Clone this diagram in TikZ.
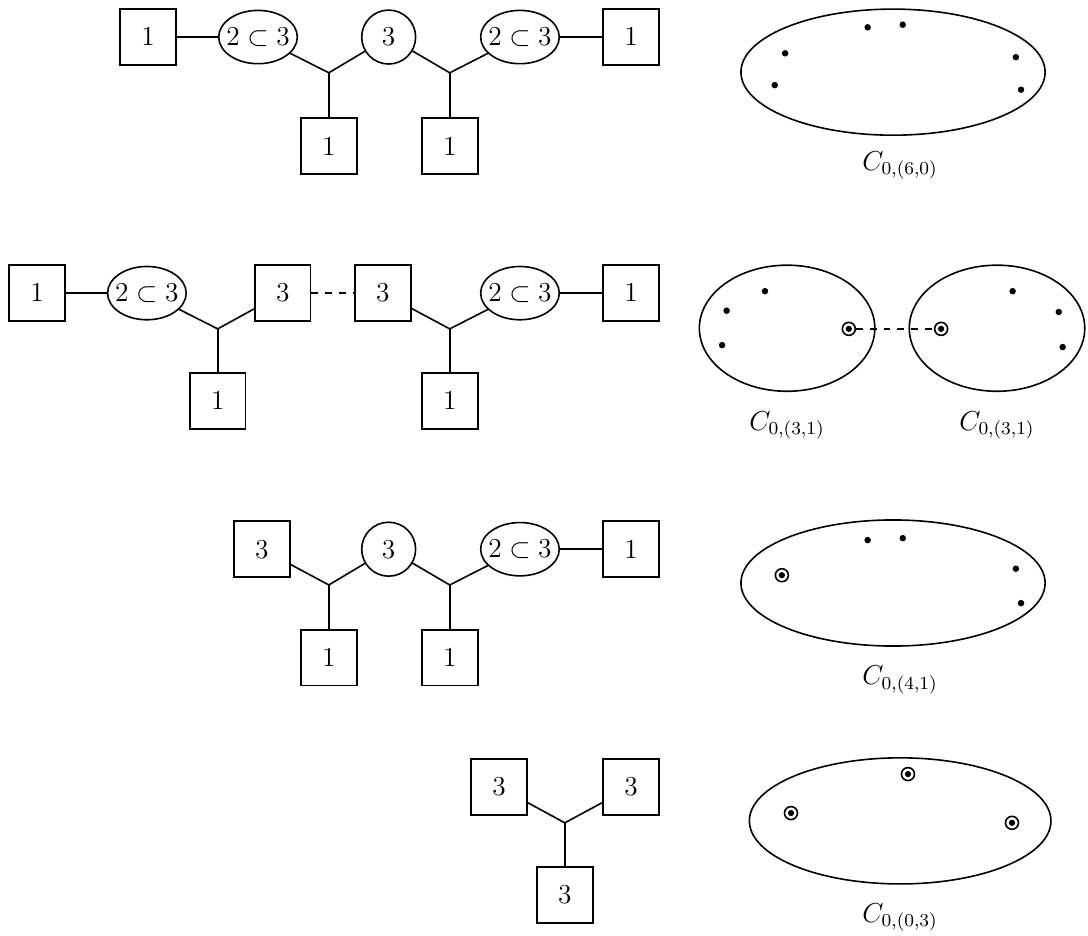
\documentclass[tikz,border=0pt]{standalone}
\usepackage{tikz}
\usetikzlibrary{shapes,positioning,calc}

\begin{document}
\begin{tikzpicture}[
            line width=0.7pt,
            every node/.style={font=\fontsize{11.5}{14}\selectfont},
            flav/.style={draw, minimum width=0.86cm, minimum height=0.86cm, inner sep=0pt},
            gaugeell/.style={draw, ellipse, minimum width=1.21cm, minimum height=0.82cm, inner xsep=-0.2cm, inner ysep=0pt},
            gaugecirc/.style={draw, circle, minimum size=0.83cm, inner sep=0pt},
            pt/.style={circle, fill, inner sep=0pt, minimum size=0.1cm},
            ppt/.style={circle, draw, inner sep=0pt, minimum size=0.2cm, path picture={\fill (path picture bounding box.center) circle (0.048cm);}},
        ]
            \useasboundingbox (0,0) rectangle (16.74,-14.4);

            % row 1
            \node[flav] (a1) at (2.28,-0.57) {$1$};
            \node[gaugeell] (a2) at (3.97,-0.57) {$2\subset 3$};
            \node[gaugecirc] (a3) at (5.98,-0.57) {$3$};
            \node[gaugeell] (a4) at (8.00,-0.57) {$2\subset 3$};
            \node[flav] (a5) at (9.71,-0.57) {$1$};
            \coordinate (aj1) at (5.06,-1.12);
            \coordinate (aj2) at (6.92,-1.12);
            \node[flav] (a6) at (5.06,-2.25) {$1$};
            \node[flav] (a7) at (6.92,-2.25) {$1$};
            \draw (a1) -- (a2);
            \draw (a4) -- (a5);
            \draw (a2) -- (aj1) -- (a3);
            \draw (aj1) -- (a6);
            \draw (a3) -- (aj2) -- (a4);
            \draw (aj2) -- (a7);

            \draw (13.74,-1.11) ellipse (2.34cm and 0.97cm);
            \node[pt] (d1) at (13.35,-0.42) {};
            \node[pt] (d2) at (13.89,-0.38) {};
            \node[pt] (d3) at (12.08,-0.82) {};
            \node[pt] (d4) at (11.92,-1.31) {};
            \node[pt] (d5) at (15.63,-0.88) {};
            \node[pt] (d6) at (15.71,-1.38) {};
            \node (la) at (13.85,-2.54) {$C_{0,(6,0)}$};

            % row 2
            \node[flav] (b1) at (0.57,-4.51) {$1$};
            \node[gaugeell] (b2) at (2.26,-4.51) {$2\subset 3$};
            \node[flav] (b3) at (4.35,-4.51) {$3$};
            \node[flav] (b4) at (5.89,-4.51) {$3$};
            \node[gaugeell] (b5) at (8.00,-4.51) {$2\subset 3$};
            \node[flav] (b6) at (9.71,-4.51) {$1$};
            \coordinate (bj1) at (3.35,-5.06);
            \coordinate (bj2) at (6.92,-5.06);
            \node[flav] (b7) at (3.35,-6.17) {$1$};
            \node[flav] (b8) at (6.92,-6.17) {$1$};
            \draw (b1) -- (b2);
            \draw (b5) -- (b6);
            \draw (b2) -- (bj1) -- (b3);
            \draw (bj1) -- (b7);
            \draw (b4) -- (bj2) -- (b5);
            \draw (bj2) -- (b8);
            \draw[dashed] (b3) -- (b4);

            \draw (12.11,-5.05) ellipse (1.35cm and 0.97cm);
            \draw (15.34,-5.05) ellipse (1.35cm and 0.97cm);
            \node[pt] (e1) at (11.77,-4.48) {};
            \node[pt] (e2) at (11.18,-4.78) {};
            \node[pt] (e3) at (11.11,-5.31) {};
            \node[ppt] (e4) at (13.06,-5.06) {};
            \node[pt] (e5) at (15.58,-4.48) {};
            \node[pt] (e6) at (16.29,-4.80) {};
            \node[pt] (e7) at (16.35,-5.34) {};
            \node[ppt] (e8) at (14.48,-5.06) {};
            \draw[dashed] (e4) -- (e8);
            \node (lb1) at (12.11,-6.54) {$C_{0,(3,1)}$};
            \node (lb2) at (15.34,-6.54) {$C_{0,(3,1)}$};

            % row 3
            \node[flav] (c1) at (4.03,-8.45) {$3$};
            \node[gaugecirc] (c2) at (5.98,-8.45) {$3$};
            \node[gaugeell] (c3) at (8.00,-8.45) {$2\subset 3$};
            \node[flav] (c4) at (9.71,-8.45) {$1$};
            \coordinate (cj1) at (5.06,-9.00);
            \coordinate (cj2) at (6.92,-9.00);
            \node[flav] (c5) at (5.06,-10.12) {$1$};
            \node[flav] (c6) at (6.92,-10.12) {$1$};
            \draw (c3) -- (c4);
            \draw (c1) -- (cj1) -- (c2);
            \draw (cj1) -- (c5);
            \draw (c2) -- (cj2) -- (c3);
            \draw (cj2) -- (c6);

            \draw (13.74,-8.97) ellipse (2.34cm and 0.97cm);
            \node[pt] (f1) at (13.35,-8.31) {};
            \node[pt] (f2) at (13.89,-8.28) {};
            \node[pt] (f3) at (15.63,-8.75) {};
            \node[pt] (f4) at (15.71,-9.28) {};
            \node[ppt] (f5) at (12.03,-8.85) {};
            \node (lc) at (13.85,-10.46) {$C_{0,(4,1)}$};

            % row 4
            \node[flav] (g1) at (7.68,-12.11) {$3$};
            \node[flav] (g2) at (9.71,-12.11) {$3$};
            \coordinate (gj) at (8.69,-12.66);
            \node[flav] (g3) at (8.69,-13.77) {$3$};
            \draw (g1) -- (gj) -- (g2);
            \draw (gj) -- (g3);

            \draw (13.85,-12.63) ellipse (2.32cm and 0.97cm);
            \node[ppt] (h1) at (13.97,-11.91) {};
            \node[ppt] (h2) at (12.17,-12.51) {};
            \node[ppt] (h3) at (15.57,-12.66) {};
            \node (ld) at (13.85,-14.11) {$C_{0,(0,3)}$};
        \end{tikzpicture}
\end{document}
